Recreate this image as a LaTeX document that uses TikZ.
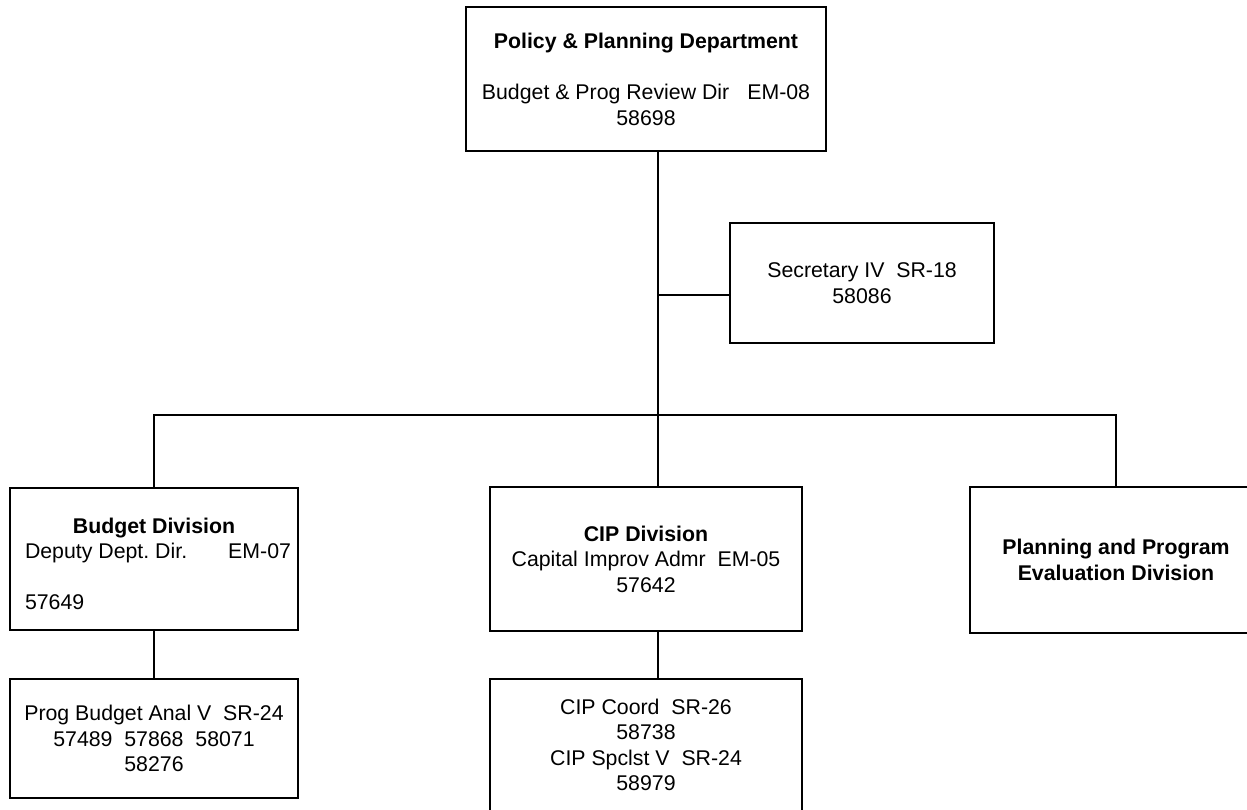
\documentclass[tikz,border=0pt]{standalone}
\usepackage{fontspec}
\setmainfont{Liberation Sans}
\frenchspacing

\begin{document}
\begin{tikzpicture}
  [x=1pt, y=-1pt,
   unit/.style={draw, line width=1.5pt, align=center, inner sep=0pt,
     font=\fontsize{21.3}{25.5}\selectfont},
   link/.style={line width=1.5pt}]
  \useasboundingbox (0,0) rectangle (1247,809);
  \clip (0,0) rectangle (1247,809);

  \node[unit, minimum width=360pt, minimum height=144pt] (dept) at (646,79)
    {\textbf{Policy \& Planning Department}\\[26pt]
     Budget \& Prog Review Dir\hspace{18pt}EM-08\\ 58698};
  \node[unit, minimum width=264pt, minimum height=120pt] (sec) at (862,283)
    {Secretary IV\ \ SR-18\\ 58086};

  \node[unit, minimum width=288pt, minimum height=142pt] (budget) at (154,559)
    {\mbox{}\\ \textbf{Budget Division}\\
     \hspace*{8pt}\makebox[266pt]{Deputy Dept.\ Dir.\hfill EM-07}\\[25.5pt]
     \hspace*{8pt}\makebox[266pt][l]{57649}};
  \node[unit, minimum width=312pt, minimum height=144pt] (cip) at (646,559)
    {\textbf{CIP Division}\\ Capital Improv Admr\ \ EM-05\\ 57642};
  \node[unit, minimum width=292pt, minimum height=146pt] (plan) at (1116,560)
    {\textbf{Planning and Program}\\ \textbf{Evaluation Division}};

  \node[unit, minimum width=288pt, minimum height=119pt] (prog) at (154,738.5)
    {Prog Budget Anal V\ \ SR-24\\ 57489\ \ 57868\ \ 58071\\ 58276};
  \node[unit, minimum width=312pt, minimum height=132pt] (coord) at (646,745)
    {CIP Coord\ \ SR-26\\ 58738\\ CIP Spclst V\ \ SR-24\\ 58979};

  % trunk and bus
  \coordinate (trunk) at (658,415);
  \coordinate (tap) at (658,295);
  \draw[link] (dept.south -| trunk) -- (cip.north -| trunk);
  \draw[link] (tap) -- (tap -| sec.west);
  \draw[link] (budget.north) |- (plan.north |- trunk) -- (plan.north);

  \draw[link] (budget) -- (prog);
  \draw[link] (cip.south -| trunk) -- (coord.north -| trunk);
\end{tikzpicture}
\end{document}
